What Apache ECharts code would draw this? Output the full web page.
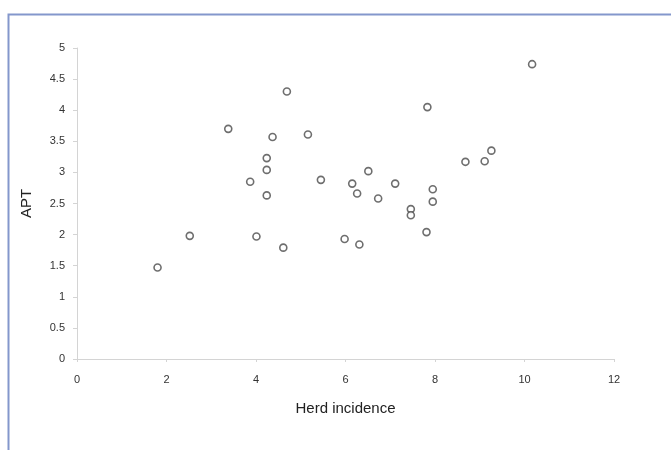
<!DOCTYPE html>
<html><head><meta charset="utf-8">
<script src="https://cdn.jsdelivr.net/npm/echarts@6/dist/echarts.min.js"></script>
<style>html,body{margin:0;padding:0;background:#fff}#c{width:671px;height:450px}</style>
</head><body><div id="c"></div>
<script>
const herdIncidence = [1.80, 2.52, 3.38, 3.87, 4.01, 4.24, 4.24, 4.24, 4.37, 4.61, 4.69, 5.16, 5.45, 5.98, 6.15, 6.26, 6.31, 6.51, 6.73, 7.11, 7.46, 7.46, 7.81, 7.83, 7.95, 7.95, 8.68, 9.11, 9.26, 10.17];
const apt =           [1.47, 1.98, 3.70, 2.85, 1.97, 3.23, 3.04, 2.63, 3.57, 1.79, 4.30, 3.61, 2.88, 1.93, 2.82, 2.66, 1.84, 3.02, 2.58, 2.82, 2.41, 2.31, 2.04, 4.05, 2.73, 2.53, 3.17, 3.18, 3.35, 4.74];
const xTicks = [0, 2, 4, 6, 8, 10, 12];
const yTicks = [0, 0.5, 1, 1.5, 2, 2.5, 3, 3.5, 4, 4.5, 5];
const points = herdIncidence.map((x, i) => [x, apt[i]]);
const chart = echarts.init(document.getElementById('c'));
const font = 'Liberation Sans, Arial, sans-serif';
chart.setOption({
  animation: false,
  backgroundColor: '#fff',
  graphic: [{
    type: 'rect', left: 6, top: 12,
    shape: {width: 700, height: 500},
    style: {fill: 'none', stroke: '#8497cc', lineWidth: 2}
  }],
  grid: {left: 77, top: 48, width: 537, height: 311},
  xAxis: {
    type: 'value', min: xTicks[0], max: xTicks[xTicks.length - 1], interval: 2,
    name: 'Herd incidence', nameLocation: 'middle', nameGap: 42,
    nameTextStyle: {fontFamily: font, fontSize: 15, color: '#222'},
    axisLine: {lineStyle: {color: '#d4d4d4', width: 1}},
    axisTick: {show: true, length: 3, lineStyle: {color: '#d4d4d4'}},
    axisLabel: {fontFamily: font, fontSize: 11, color: '#333', margin: 15},
    splitLine: {show: false}
  },
  yAxis: {
    type: 'value', min: yTicks[0], max: yTicks[yTicks.length - 1], interval: 0.5,
    name: 'APT', nameLocation: 'middle', nameGap: 43, nameRotate: 90,
    nameTextStyle: {fontFamily: font, fontSize: 15, color: '#222'},
    axisLine: {show: true, lineStyle: {color: '#d4d4d4', width: 1}},
    axisTick: {show: true, length: 4, lineStyle: {color: '#d4d4d4'}},
    axisLabel: {fontFamily: font, fontSize: 11, color: '#333', margin: 12},
    splitLine: {show: false}
  },
  series: [{
    type: 'scatter', data: points, symbol: 'circle', symbolSize: 7,
    itemStyle: {color: '#fff', borderColor: '#4a4a4a', borderWidth: 1.6}
  }]
});
</script></body></html>
